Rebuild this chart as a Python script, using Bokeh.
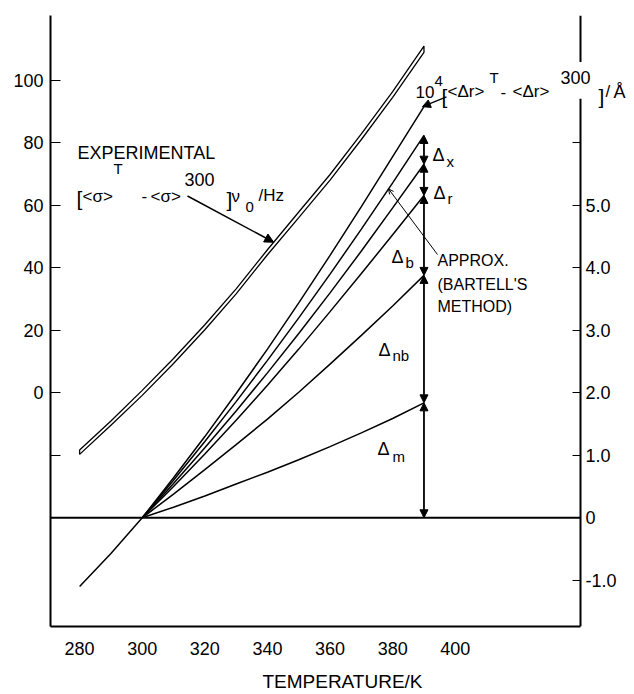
import numpy as np
from bokeh.plotting import figure
from bokeh.models import (Range1d, LinearAxis, FixedTicker, Label, BoxAnnotation,
                          Arrow, NormalHead, OpenHead)
from bokeh.embed import file_html
from bokeh.resources import INLINE

# ---------------- data ----------------
x_ticks = [280, 300, 320, 340, 360, 380, 400]
left_ticks = [-20, 0, 20, 40, 60, 80, 100]
left_tick_labels = ["", "0", "20", "40", "60", "80", "100"]
right_ticks = [-1, 0, 1, 2, 3, 4, 5, 6]
right_tick_labels = ["-1.0", "0", "1.0", "2.0", "3.0", "4.0", "5.0", ""]

# experimental shift (left axis, Hz): the two edges of the narrow band
exp_T = [280, 290, 300, 310, 320, 330, 340, 350, 360, 370, 380, 390]
exp_upper = [-18.3, -9.0, 0.8, 11.0, 21.8, 33.3, 45.8, 57.9, 69.9, 82.9, 96.4, 111.0]
exp_lower = [-19.7, -10.4, -0.8, 9.4, 20.2, 31.7, 44.2, 56.1, 68.1, 81.1, 94.6, 109.0]

# 10^4 [<dr>^T - <dr>^300] / A  (right axis)
total_T = [280, 290, 300, 310, 320, 330, 340, 350, 360, 370, 380, 390]
total = [-1.10, -0.57, 0.0, 0.64, 1.30, 1.99, 2.70, 3.44, 4.20, 4.98, 5.78, 6.58]

fan_T = [300, 310, 320, 330, 340, 350, 360, 370, 380, 390]
curve_x = [0.0, 0.60, 1.22, 1.86, 2.52, 3.20, 3.90, 4.62, 5.36, 6.12]   # Bartell's approx.
curve_r = [0.0, 0.55, 1.12, 1.71, 2.32, 2.95, 3.60, 4.27, 4.96, 5.66]
curve_b = [0.0, 0.50, 1.02, 1.56, 2.12, 2.70, 3.30, 3.91, 4.53, 5.16]
curve_nb = [0.0, 0.38, 0.77, 1.17, 1.58, 2.01, 2.46, 2.92, 3.39, 3.88]
curve_m = [0.0, 0.17, 0.35, 0.54, 0.73, 0.93, 1.14, 1.36, 1.59, 1.84]

# ---------------- layout ----------------
FONT = "Liberation Sans"
W, H = 634, 694
FL, FT, FB = 50, 15, 631            # frame left / top / bottom (px)
T_LEFT, T_AXIS = 270.7, 440.0       # temperature at left axis and at right axis
PX_PER_K = (580 - FL) / (T_AXIS - T_LEFT)
XR = (T_LEFT, T_LEFT + (W - FL) / PX_PER_K)
YR = (-74.8, 120.8)
YR_RIGHT = ((YR[0] + 40) / 20, (YR[1] + 40) / 20)


def X(px):
    return T_LEFT + (px - FL) / PX_PER_K


def Y(py):
    return YR[1] - (py - FT) / (FB - FT) * (YR[1] - YR[0])


def YRt(py):
    return (Y(py) + 40) / 20


p = figure(width=W, height=H, x_range=Range1d(*XR), y_range=Range1d(*YR),
           output_backend="svg", toolbar_location=None,
           min_border_left=FL, min_border_right=0, min_border_top=FT,
           min_border_bottom=H - FB)
p.extra_y_ranges = {"right": Range1d(*YR_RIGHT)}
p.grid.visible = False
p.outline_line_color = None
p.background_fill_color = "white"
p.border_fill_color = "white"

xa = p.xaxis[0]
xa.ticker = FixedTicker(ticks=x_ticks)
xa.bounds = (T_LEFT, T_AXIS)
xa.major_tick_line_color = None
xa.minor_tick_line_color = None
xa.axis_line_width = 2
xa.major_label_text_font = FONT
xa.major_label_text_font_size = "18px"
xa.major_label_text_color = "black"
xa.major_label_standoff = 9
xa.axis_label = "TEMPERATURE/K"
xa.axis_label_text_font = FONT
xa.axis_label_text_font_style = "normal"
xa.axis_label_text_font_size = "19px"
xa.axis_label_text_color = "black"
xa.axis_label_standoff = 13

ya = p.yaxis[0]
ya.ticker = FixedTicker(ticks=left_ticks)
ya.major_label_overrides = dict(zip(left_ticks, left_tick_labels))
ya.major_tick_in = 10
ya.major_tick_out = 0
ya.major_tick_line_width = 1
ya.minor_tick_line_color = None
ya.axis_line_width = 2
ya.major_label_text_font = FONT
ya.major_label_text_font_size = "18px"
ya.major_label_text_color = "black"
ya.major_label_standoff = 7

ra = LinearAxis(y_range_name="right", fixed_location=T_AXIS,
                ticker=FixedTicker(ticks=right_ticks),
                major_label_overrides=dict(zip(right_ticks, right_tick_labels)),
                major_tick_in=8, major_tick_out=0, minor_tick_line_color=None,
                axis_line_width=2, major_label_text_font=FONT,
                major_label_text_font_size="18px", major_label_text_color="black",
                major_label_standoff=5)
p.add_layout(ra, "right")

# zero line of the right scale
p.segment(x0=[T_LEFT], y0=[0], x1=[T_AXIS], y1=[0], y_range_name="right",
          line_color="black", line_width=2)

# experimental band
band_x = list(exp_T) + list(exp_T[::-1])
band_y = list(exp_upper) + list(exp_lower[::-1])
p.patch(band_x, band_y, fill_color="white", line_color="black", line_width=1.3)

# calculated curves
p.line(total_T, total, y_range_name="right", line_color="black", line_width=1.5)
for c in (curve_x, curve_r, curve_b, curve_nb, curve_m):
    p.line(fan_T, c, y_range_name="right", line_color="black", line_width=1.5)

# stacked double arrows at the last temperature
levels = [0.0] + [c[-1] for c in (curve_m, curve_nb, curve_b, curve_r, curve_x)]
T_end = fan_T[-1]
for lo, hi in zip(levels[:-1], levels[1:]):
    p.add_layout(Arrow(x_start=T_end, y_start=lo, x_end=T_end, y_end=hi,
                       y_range_name="right", line_width=1.8, line_color="black",
                       start=NormalHead(size=8, fill_color="black", line_color="black"),
                       end=NormalHead(size=8, fill_color="black", line_color="black")))

# gap in the right axis line behind its label
p.add_layout(BoxAnnotation(left=X(575), right=X(586), top=Y(62), bottom=Y(99),
                           fill_color="white", fill_alpha=1.0, line_color=None))


def txt(px, py, s, size="17px"):
    p.add_layout(Label(x=X(px), y=Y(py), text=s, text_font=FONT,
                       text_font_size=size, text_color="black",
                       text_align="left", text_baseline="alphabetic"))


# EXPERIMENTAL label
txt(77, 154, "EXPERIMENTAL", "18px")
txt(76, 200, "[", "21px")
txt(82, 197, "<σ>")
txt(113, 169, "T", "15px")
txt(141, 197, "-")
txt(150, 197, "<σ>")
txt(184, 180, "300", "18px")
txt(226, 201, "]", "21px")
txt(231, 197, "ν")
txt(245, 208, "0", "15px")
txt(258, 196, "/Hz")
T_arrow = 342.0
p.add_layout(Arrow(x_start=X(187), y_start=Y(197), x_end=T_arrow,
                   y_end=float(np.interp(T_arrow, exp_T, exp_upper)),
                   line_width=1.5, line_color="black",
                   end=NormalHead(size=9, fill_color="black", line_color="black")))

# right formula label
txt(415, 92, "10")
txt(434, 81, "4", "15px")
txt(441, 97, "[", "21px")
txt(447, 92, "<Δr>")
txt(489, 78, "T", "15px")
txt(500, 92, "-")
txt(512, 92, "<Δr>")
txt(560, 78, "300", "18px")
txt(598, 97, "]", "21px")
txt(605, 92, "/")
txt(613, 92, "Å", "18px")
p.add_layout(Arrow(x_start=X(446), y_start=YRt(97), x_end=total_T[-1] - 0.5,
                   y_end=total[-1], y_range_name="right",
                   line_width=1.3, line_color="black",
                   end=NormalHead(size=8, fill_color="black", line_color="black")))

# delta labels
txt(432, 156, "Δ", "18px"); txt(446, 162, "x", "15px")
txt(433, 194, "Δ", "18px"); txt(447, 200, "r", "15px")
txt(391, 258, "Δ", "18px"); txt(405, 264, "b", "15px")
txt(378, 352, "Δ", "18px"); txt(392, 358, "nb", "15px")
txt(377, 452, "Δ", "18px"); txt(392, 460, "m", "15px")

# Bartell's approximation
txt(437, 262, "APPROX.", "16px")
txt(437, 286, "(BARTELL'S", "16px")
txt(437, 308, "METHOD)", "16px")
T_ptr = 378.7
p.add_layout(Arrow(x_start=X(437), y_start=YRt(256), x_end=T_ptr,
                   y_end=float(np.interp(T_ptr, fan_T, curve_x)), y_range_name="right",
                   line_width=1.0, line_color="black",
                   end=OpenHead(size=5, line_width=1.0, line_color="black")))

open("out.html", "w").write(file_html(p, INLINE))
